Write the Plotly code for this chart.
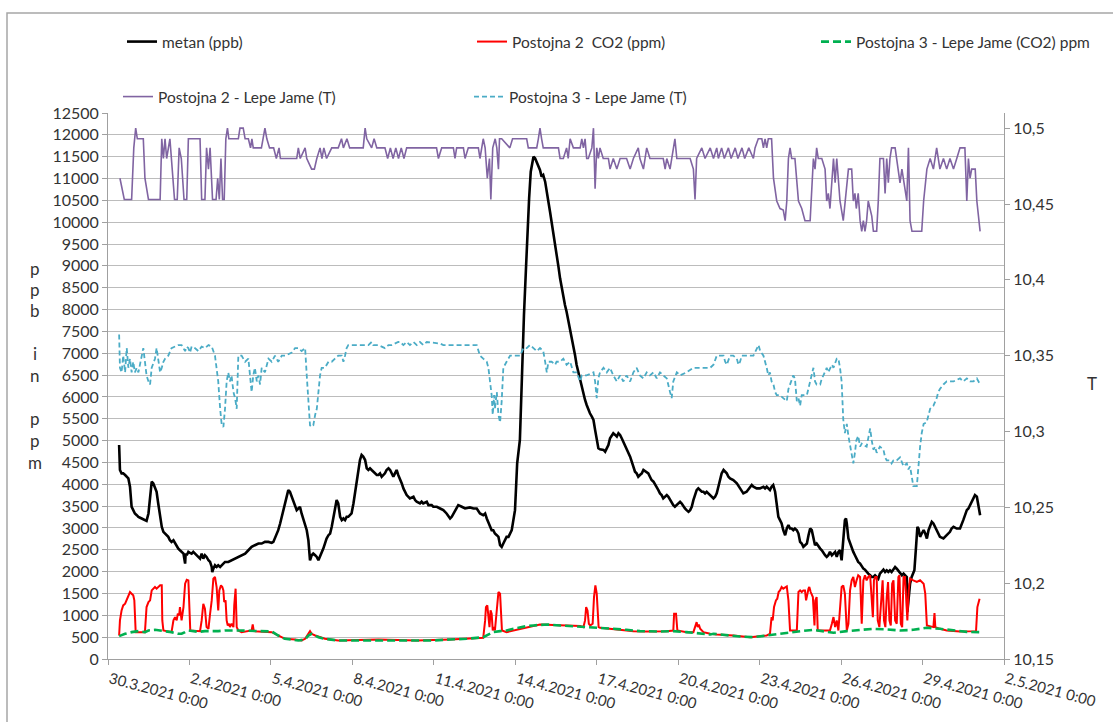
import pandas as pd
import plotly.graph_objects as go

BASE = pd.Timestamp("2021-03-30 00:00")

# ---- data: [day offset from 30.3.2021 0:00, value] ----
metan_ppb = [
    [0.41,4900],[0.44,4327],[0.50,4250],[0.56,4250],[0.63,4212],[0.69,4173],[0.75,4135],[0.81,3944],
    [0.87,3485],[0.93,3408],[0.99,3332],[1.06,3293],[1.12,3255],[1.24,3217],[1.36,3179],[1.42,3163],
    [1.49,3332],[1.55,3791],[1.61,4059],[1.67,4020],[1.73,3944],[1.79,3829],[1.85,3561],[1.92,3255],
    [1.98,3026],[2.04,2911],[2.10,2872],[2.16,2834],[2.22,2796],[2.28,2719],[2.34,2681],[2.41,2719],
    [2.47,2643],[2.53,2605],[2.59,2528],[2.65,2490],[2.71,2452],[2.78,2413],[2.84,2184],[2.86,2413],
    [2.90,2375],[2.96,2452],[3.02,2429],[3.08,2413],[3.14,2452],[3.20,2413],[3.27,2375],[3.33,2337],
    [3.39,2299],[3.45,2413],[3.51,2299],[3.57,2375],[3.63,2337],[3.70,2260],[3.76,2222],[3.82,2107],
    [3.84,1992],[3.88,2069],[3.94,2146],[4.00,2107],[4.06,2146],[4.13,2107],[4.19,2146],[4.31,2222],
    [4.43,2222],[4.56,2260],[4.68,2299],[4.80,2337],[4.92,2375],[5.05,2413],[5.17,2490],[5.29,2566],
    [5.41,2605],[5.54,2643],[5.66,2643],[5.78,2681],[5.91,2681],[6.03,2658],[6.09,2681],[6.15,2758],
    [6.21,2834],[6.27,2949],[6.34,3102],[6.40,3255],[6.52,3561],[6.58,3714],[6.64,3867],[6.70,3829],
    [6.77,3714],[6.83,3638],[6.89,3523],[6.95,3408],[7.01,3446],[7.07,3485],[7.13,3332],[7.20,3179],
    [7.26,3026],[7.32,2949],[7.38,2719],[7.44,2260],[7.50,2375],[7.56,2413],[7.63,2375],[7.69,2337],
    [7.75,2260],[7.81,2337],[7.87,2413],[7.93,2528],[7.99,2643],[8.05,2758],[8.12,2834],[8.18,2872],
    [8.24,3026],[8.30,3255],[8.36,3485],[8.42,3638],[8.48,3561],[8.55,3255],[8.61,3179],[8.67,3217],
    [8.73,3179],[8.79,3255],[8.85,3255],[8.91,3293],[8.97,3332],[9.04,3561],[9.10,3829],[9.16,4097],
    [9.22,4327],[9.28,4556],[9.34,4671],[9.40,4633],[9.47,4556],[9.53,4365],[9.59,4327],[9.65,4365],
    [9.71,4327],[9.77,4288],[9.83,4250],[9.90,4212],[9.96,4212],[10.02,4250],[10.08,4173],[10.14,4212],
    [10.20,4250],[10.26,4327],[10.33,4365],[10.39,4327],[10.45,4250],[10.51,4173],[10.57,4250],
    [10.63,4327],[10.69,4212],[10.75,4135],[10.82,4020],[10.88,3906],[11.00,3753],[11.12,3676],
    [11.25,3714],[11.31,3638],[11.37,3600],[11.49,3561],[11.55,3600],[11.61,3561],[11.74,3600],
    [11.80,3523],[11.92,3523],[11.98,3485],[12.11,3485],[12.23,3446],[12.35,3408],[12.47,3332],
    [12.60,3217],[12.66,3255],[12.78,3408],[12.90,3523],[13.03,3485],[13.15,3446],[13.33,3470],
    [13.46,3446],[13.58,3446],[13.64,3370],[13.70,3332],[13.82,3293],[13.89,3332],[13.95,3217],
    [14.01,3140],[14.07,3026],[14.13,2949],[14.19,2949],[14.25,2872],[14.32,2834],[14.38,2796],
    [14.44,2605],[14.50,2566],[14.56,2643],[14.62,2719],[14.68,2796],[14.75,2796],[14.81,2872],
    [14.87,2949],[14.93,3179],[14.99,3408],[15.03,3944],[15.07,4480],[15.17,5014],[15.23,6349],
    [15.32,7875],[15.40,9020],[15.45,9783],[15.51,10547],[15.57,11157],[15.63,11424],[15.67,11500],
    [15.73,11462],[15.79,11386],[15.91,11195],[15.97,11043],[16.03,11081],[16.10,10928],[16.16,10737],
    [16.22,10470],[16.28,10241],[16.34,10012],[16.40,9783],[16.46,9554],[16.53,9249],[16.59,8982],
    [16.65,8715],[16.71,8487],[16.77,8295],[16.83,8104],[16.89,7952],[16.96,7723],[17.02,7571],
    [17.08,7418],[17.14,7189],[17.20,6960],[17.26,6731],[17.33,6540],[17.39,6349],[17.45,6197],
    [17.51,6044],[17.57,5930],[17.63,5815],[17.69,5701],[17.75,5625],[17.82,5548],[17.88,5472],
    [17.94,5245],[18.00,5015],[18.04,4862],[18.06,4824],[18.12,4801],[18.25,4786],[18.31,4747],
    [18.37,4824],[18.43,4900],[18.49,5054],[18.61,5168],[18.68,5130],[18.74,5092],[18.80,5168],
    [18.86,5130],[18.92,5054],[18.98,4977],[19.04,4900],[19.10,4786],[19.23,4633],[19.29,4518],
    [19.35,4403],[19.41,4288],[19.47,4250],[19.53,4173],[19.59,4212],[19.66,4250],[19.72,4327],
    [19.84,4288],[19.90,4250],[19.96,4173],[20.02,4097],[20.09,4059],[20.15,3982],[20.21,3944],
    [20.27,3867],[20.33,3791],[20.39,3753],[20.45,3676],[20.52,3714],[20.58,3753],[20.64,3714],
    [20.70,3638],[20.76,3561],[20.82,3523],[20.88,3485],[20.95,3523],[21.01,3561],[21.07,3600],
    [21.13,3561],[21.19,3485],[21.25,3446],[21.31,3408],[21.38,3370],[21.44,3408],[21.50,3485],
    [21.56,3638],[21.62,3753],[21.68,3867],[21.74,3906],[21.81,3867],[21.87,3829],[21.93,3829],
    [21.99,3791],[22.05,3829],[22.17,3753],[22.30,3676],[22.36,3714],[22.42,3791],[22.48,3944],
    [22.54,4097],[22.60,4250],[22.67,4327],[22.73,4288],[22.79,4250],[22.85,4173],[22.91,4135],
    [23.03,4097],[23.16,4020],[23.28,3906],[23.34,3829],[23.40,3791],[23.52,3829],[23.65,3944],
    [23.71,3982],[23.77,3944],[23.89,3906],[24.01,3906],[24.14,3944],[24.20,3906],[24.26,3944],
    [24.32,3906],[24.38,3867],[24.44,3944],[24.50,3982],[24.57,3829],[24.63,3561],[24.69,3255],
    [24.75,3179],[24.81,3102],[24.87,2949],[24.94,2834],[25.00,2987],[25.06,3064],[25.12,2987],
    [25.18,2987],[25.24,2949],[25.30,2987],[25.37,2949],[25.43,2872],[25.49,2681],[25.55,2643],
    [25.61,2566],[25.67,2605],[25.74,2643],[25.80,2834],[25.86,2987],[25.92,2949],[25.98,2758],
    [26.04,2605],[26.10,2643],[26.17,2566],[26.23,2528],[26.29,2490],[26.35,2413],[26.41,2375],
    [26.47,2337],[26.53,2375],[26.59,2452],[26.66,2375],[26.72,2413],[26.78,2452],[26.84,2337],
    [26.90,2452],[26.96,2490],[27.02,2260],[27.08,2719],[27.14,3179],[27.18,3217],[27.21,3102],
    [27.27,2758],[27.33,2643],[27.39,2528],[27.45,2452],[27.51,2375],[27.57,2299],[27.63,2222],
    [27.70,2184],[27.76,2107],[27.82,2069],[27.88,2046],[27.94,1992],[28.00,1954],[28.07,1916],
    [28.13,1878],[28.19,1878],[28.25,1916],[28.31,1878],[28.37,1839],[28.43,1954],[28.50,1992],
    [28.56,2046],[28.62,1992],[28.68,2031],[28.74,1992],[28.80,2031],[28.86,1992],[28.93,2046],
    [28.99,2107],[29.05,2069],[29.11,2015],[29.17,1954],[29.24,1916],[29.30,1954],[29.36,1916],
    [29.42,1878],[29.44,1074],[29.48,1342],[29.54,1725],[29.60,1878],[29.66,1954],[29.70,2031],
    [29.76,2566],[29.81,3026],[29.85,2987],[29.91,2796],[29.97,2872],[30.04,2949],[30.10,2872],
    [30.16,2758],[30.22,2949],[30.28,3064],[30.34,3140],[30.40,3102],[30.52,2949],[30.58,2834],
    [30.64,2796],[30.77,2758],[30.89,2834],[31.01,2911],[31.07,2987],[31.14,3026],[31.26,2987],
    [31.38,2987],[31.50,3179],[31.57,3293],[31.63,3408],[31.69,3446],[31.75,3523],[31.87,3676],
    [31.93,3753],[32.00,3714],[32.06,3485],[32.12,3293],
]

postojna2_co2_ppm = [
    [0.41,538],[0.44,883],[0.50,1112],[0.56,1227],[0.63,1265],[0.69,1342],[0.75,1457],[0.81,1533],
    [0.87,1495],[0.93,1457],[0.97,1342],[0.99,883],[1.02,615],[1.36,615],[1.42,1189],[1.49,1304],
    [1.55,1342],[1.61,1571],[1.67,1610],[1.73,1648],[1.79,1610],[1.85,1648],[1.92,1686],[1.98,1686],
    [2.00,883],[2.04,653],[2.34,615],[2.41,883],[2.47,959],[2.53,883],[2.57,1036],[2.62,998],
    [2.65,1189],[2.71,883],[2.78,1189],[2.84,1725],[2.90,1816],[2.96,1801],[3.00,1189],[3.03,653],
    [3.39,638],[3.45,883],[3.51,1265],[3.57,1151],[3.63,730],[3.70,691],[3.76,1036],[3.82,1342],
    [3.88,1839],[3.94,1878],[4.00,1648],[4.06,1112],[4.10,1571],[4.16,1686],[4.21,1648],[4.25,1571],
    [4.28,1304],[4.33,1342],[4.37,883],[4.41,768],[4.46,806],[4.49,730],[4.55,806],[4.62,730],
    [4.65,1227],[4.70,1610],[4.74,730],[4.80,653],[4.92,615],[5.29,653],[5.33,791],[5.37,638],
    [6.03,615],[6.27,538],[6.52,462],[6.89,447],[7.13,424],[7.26,462],[7.38,577],[7.44,638],
    [7.50,577],[7.63,538],[7.99,462],[8.48,424],[9.96,447],[11.12,424],[11.37,424],[12.60,447],
    [13.21,462],[13.82,485],[13.89,883],[13.92,1189],[13.97,1227],[14.01,883],[14.05,730],[14.09,1112],
    [14.13,1036],[14.17,653],[14.22,730],[14.25,653],[14.32,1189],[14.38,1533],[14.44,1495],
    [14.48,1112],[14.51,653],[14.68,615],[14.93,653],[15.18,691],[15.42,730],[15.67,753],[15.91,791],
    [17.39,753],[17.51,730],[17.57,883],[17.61,1189],[17.66,1112],[17.71,806],[17.76,768],[17.85,806],
    [17.90,1418],[17.95,1686],[18.00,1495],[18.04,883],[18.07,730],[18.12,714],[18.61,691],
    [19.10,653],[19.35,638],[19.84,630],[20.58,638],[20.82,653],[20.85,1036],[20.92,1036],[20.97,653],
    [21.31,615],[21.56,615],[21.66,768],[21.68,844],[21.72,730],[21.76,791],[21.81,691],[21.93,615],
    [22.18,577],[22.42,561],[23.03,538],[23.65,500],[24.26,538],[24.38,577],[24.44,959],[24.48,883],
    [24.53,1189],[24.60,1342],[24.65,1380],[24.70,1533],[24.75,1571],[24.81,1648],[24.87,1610],
    [24.94,1648],[25.00,1663],[25.06,1342],[25.12,653],[25.37,653],[25.43,1533],[25.49,1571],
    [25.55,1533],[25.61,1571],[25.67,1571],[25.71,1342],[25.76,1533],[25.80,1610],[25.83,1648],
    [25.88,1533],[25.96,1418],[26.02,768],[26.05,1342],[26.10,1418],[26.14,653],[26.59,653],
    [26.66,806],[26.72,959],[26.78,730],[26.84,883],[26.90,653],[26.96,1189],[27.02,1648],
    [27.08,1686],[27.14,1495],[27.21,653],[27.27,806],[27.33,1571],[27.39,1801],[27.45,1878],
    [27.51,1648],[27.57,1801],[27.63,1916],[27.70,1878],[27.76,806],[27.82,1801],[27.88,1916],
    [27.94,1801],[28.00,1878],[28.07,1916],[28.13,1418],[28.17,959],[28.21,1801],[28.26,1878],
    [28.31,1878],[28.35,883],[28.41,730],[28.50,1648],[28.53,1801],[28.58,883],[28.63,730],
    [28.68,1418],[28.73,1763],[28.78,883],[28.83,768],[28.88,1725],[28.93,1801],[28.99,883],
    [29.05,806],[29.11,1878],[29.15,1916],[29.20,806],[29.25,730],[29.30,1878],[29.35,1878],
    [29.39,1495],[29.44,883],[29.49,1571],[29.54,1839],[29.66,1801],[29.79,1763],[29.91,1801],
    [30.04,1725],[30.10,1495],[30.13,883],[30.16,768],[30.40,730],[30.44,1051],[30.47,730],
    [30.64,691],[30.89,653],[31.38,630],[31.97,638],[32.02,1189],[32.10,1380],
]

postojna3_co2_ppm = [
    [0.41,523],[0.63,577],[0.87,615],[1.12,638],[1.36,615],[1.49,653],[1.73,668],[1.98,653],
    [2.22,638],[2.34,615],[2.59,577],[2.71,577],[2.84,615],[2.96,653],[3.33,622],[3.57,638],
    [4.06,638],[4.31,653],[4.80,653],[5.29,638],[6.03,630],[6.27,538],[6.52,462],[6.77,447],
    [7.01,424],[7.26,447],[7.38,538],[7.50,577],[7.75,500],[7.99,462],[8.48,424],[9.22,424],
    [10.45,424],[11.12,424],[11.98,424],[12.60,447],[13.21,462],[13.82,500],[13.95,538],[14.07,577],
    [14.19,615],[14.44,638],[14.68,653],[14.93,691],[15.18,730],[15.42,753],[15.67,768],[16.16,791],
    [16.65,768],[17.14,753],[17.63,730],[18.12,714],[18.61,691],[19.10,668],[19.59,638],[20.33,630],
    [20.82,638],[21.31,615],[21.81,592],[22.18,561],[22.30,577],[22.79,538],[23.28,515],[23.77,500],
    [24.26,538],[24.75,592],[25.24,622],[25.74,653],[25.98,668],[26.47,615],[26.72,600],[27.21,638],
    [27.70,668],[28.19,691],[28.68,676],[29.17,653],[29.66,668],[30.16,714],[30.64,691],[31.14,653],
    [31.63,622],[32.12,615],
]

postojna2_T = [
    [0.44,10.467],[0.52,10.460],[0.60,10.453],[0.87,10.453],[0.95,10.487],[1.02,10.500],[1.08,10.493],
    [1.30,10.493],[1.36,10.467],[1.49,10.453],[1.92,10.453],[1.98,10.493],[2.04,10.480],[2.10,10.493],
    [2.16,10.480],[2.28,10.493],[2.45,10.453],[2.55,10.453],[2.62,10.487],[2.70,10.480],[2.80,10.453],
    [2.90,10.453],[2.96,10.493],[3.39,10.493],[3.45,10.453],[3.57,10.453],[3.63,10.487],[3.70,10.473],
    [3.76,10.487],[3.85,10.453],[3.98,10.453],[4.04,10.467],[4.10,10.453],[4.16,10.480],[4.22,10.453],
    [4.28,10.453],[4.34,10.493],[4.40,10.500],[4.45,10.493],[4.80,10.493],[4.86,10.500],[4.98,10.500],
    [5.05,10.493],[5.17,10.493],[5.25,10.487],[5.30,10.493],[5.35,10.487],[5.65,10.487],[5.72,10.493],
    [5.78,10.500],[5.85,10.493],[5.95,10.487],[6.10,10.487],[6.20,10.480],[6.30,10.487],[6.35,10.480],
    [6.95,10.480],[7.01,10.487],[7.08,10.480],[7.26,10.487],[7.32,10.480],[7.50,10.473],[7.60,10.473],
    [7.69,10.480],[7.81,10.487],[7.88,10.480],[7.95,10.487],[8.05,10.480],[8.24,10.487],[8.48,10.487],
    [8.60,10.493],[8.67,10.487],[8.80,10.493],[8.90,10.487],[9.40,10.487],[9.47,10.500],[9.53,10.493],
    [9.71,10.487],[9.80,10.493],[9.90,10.487],[10.20,10.487],[10.30,10.480],[10.40,10.487],
    [10.50,10.480],[10.60,10.487],[10.70,10.480],[10.80,10.487],[10.90,10.480],[11.00,10.487],
    [12.10,10.487],[12.17,10.480],[12.29,10.487],[12.72,10.487],[12.78,10.480],[12.84,10.487],
    [13.09,10.487],[13.15,10.480],[13.27,10.487],[13.64,10.487],[13.70,10.480],[13.82,10.493],
    [13.89,10.487],[13.97,10.467],[14.05,10.480],[14.10,10.453],[14.17,10.487],[14.26,10.493],
    [14.32,10.487],[14.38,10.473],[14.42,10.493],[14.50,10.493],[14.80,10.487],[14.90,10.493],
    [15.42,10.493],[15.48,10.487],[15.79,10.487],[15.85,10.493],[15.91,10.500],[15.97,10.493],
    [16.03,10.487],[16.59,10.487],[16.65,10.480],[16.77,10.480],[16.89,10.487],[16.95,10.480],
    [17.02,10.493],[17.14,10.487],[17.39,10.487],[17.45,10.493],[17.51,10.487],[17.57,10.493],
    [17.63,10.480],[17.69,10.480],[17.82,10.487],[17.88,10.500],[17.94,10.460],[18.00,10.487],
    [18.06,10.480],[18.12,10.487],[18.24,10.480],[18.43,10.480],[18.49,10.473],[18.61,10.480],
    [18.74,10.473],[18.86,10.480],[19.10,10.480],[19.23,10.473],[19.35,10.480],[19.53,10.487],
    [19.59,10.480],[19.72,10.473],[19.84,10.487],[19.96,10.480],[20.45,10.480],[20.52,10.473],
    [20.58,10.480],[20.70,10.473],[20.82,10.487],[20.88,10.493],[20.95,10.480],[21.44,10.480],
    [21.56,10.473],[21.62,10.453],[21.68,10.480],[21.87,10.487],[21.99,10.480],[22.18,10.487],
    [22.30,10.480],[22.42,10.487],[22.48,10.480],[22.60,10.487],[22.70,10.480],[22.85,10.487],
    [22.95,10.480],[23.10,10.487],[23.20,10.480],[23.35,10.487],[23.45,10.480],[23.60,10.487],
    [23.77,10.480],[23.83,10.487],[23.95,10.493],[24.08,10.493],[24.14,10.487],[24.20,10.493],
    [24.26,10.487],[24.32,10.493],[24.44,10.493],[24.51,10.467],[24.63,10.452],[24.75,10.447],
    [24.87,10.446],[24.94,10.439],[25.00,10.452],[25.06,10.480],[25.12,10.487],[25.18,10.480],
    [25.30,10.480],[25.43,10.452],[25.55,10.447],[25.67,10.439],[25.86,10.439],[25.92,10.464],
    [25.98,10.480],[26.04,10.473],[26.10,10.487],[26.16,10.480],[26.29,10.480],[26.41,10.473],
    [26.47,10.452],[26.53,10.457],[26.59,10.447],[26.72,10.480],[26.78,10.464],[26.84,10.480],
    [26.96,10.452],[27.08,10.439],[27.21,10.464],[27.27,10.473],[27.39,10.473],[27.45,10.452],
    [27.51,10.457],[27.56,10.447],[27.63,10.457],[27.70,10.439],[27.76,10.432],[27.82,10.439],
    [27.88,10.432],[27.94,10.439],[28.00,10.452],[28.13,10.442],[28.19,10.432],[28.31,10.432],
    [28.37,10.452],[28.43,10.480],[28.56,10.480],[28.62,10.457],[28.68,10.480],[28.74,10.464],
    [28.80,10.480],[28.86,10.487],[28.99,10.487],[29.05,10.480],[29.17,10.464],[29.24,10.473],
    [29.36,10.457],[29.42,10.452],[29.48,10.487],[29.54,10.439],[29.61,10.432],[29.97,10.432],
    [30.04,10.452],[30.16,10.473],[30.28,10.480],[30.40,10.473],[30.52,10.487],[30.58,10.480],
    [30.64,10.473],[30.77,10.480],[30.89,10.473],[31.01,10.480],[31.14,10.473],[31.26,10.480],
    [31.38,10.487],[31.56,10.487],[31.63,10.452],[31.69,10.480],[31.75,10.467],[31.81,10.473],
    [31.94,10.473],[32.00,10.452],[32.06,10.439],[32.12,10.432],
]

postojna3_T = [
    [0.41,10.364],[0.44,10.342],[0.50,10.339],[0.56,10.350],[0.63,10.339],[0.69,10.355],[0.75,10.342],
    [0.81,10.348],[0.87,10.339],[0.93,10.346],[0.99,10.339],[1.06,10.342],[1.12,10.339],[1.24,10.350],
    [1.30,10.355],[1.36,10.346],[1.42,10.337],[1.49,10.333],[1.55,10.331],[1.61,10.342],[1.73,10.348],
    [1.79,10.355],[1.85,10.346],[1.92,10.339],[1.98,10.342],[2.04,10.346],[2.10,10.348],[2.22,10.350],
    [2.34,10.355],[2.47,10.356],[2.59,10.357],[2.71,10.357],[2.84,10.353],[2.90,10.356],[2.96,10.355],
    [3.02,10.352],[3.08,10.356],[3.20,10.355],[3.33,10.353],[3.45,10.356],[3.57,10.355],[3.70,10.357],
    [3.82,10.356],[3.94,10.350],[4.00,10.342],[4.06,10.333],[4.13,10.315],[4.19,10.304],[4.25,10.303],
    [4.31,10.315],[4.37,10.333],[4.43,10.339],[4.49,10.333],[4.55,10.337],[4.62,10.326],[4.68,10.322],
    [4.74,10.315],[4.80,10.350],[4.92,10.350],[5.05,10.346],[5.17,10.348],[5.29,10.326],[5.35,10.337],
    [5.41,10.342],[5.48,10.333],[5.54,10.337],[5.60,10.331],[5.66,10.342],[5.78,10.339],[5.91,10.348],
    [6.03,10.346],[6.15,10.350],[6.27,10.346],[6.40,10.350],[6.52,10.350],[6.77,10.352],[6.89,10.355],
    [7.01,10.355],[7.13,10.353],[7.26,10.355],[7.32,10.337],[7.38,10.320],[7.44,10.304],[7.50,10.303],
    [7.56,10.304],[7.63,10.311],[7.69,10.315],[7.75,10.326],[7.81,10.337],[7.87,10.342],[7.99,10.342],
    [8.12,10.346],[8.24,10.346],[8.36,10.348],[8.48,10.350],[8.61,10.350],[8.67,10.346],[8.73,10.350],
    [8.79,10.355],[8.85,10.357],[8.97,10.357],[9.22,10.357],[9.59,10.357],[9.71,10.359],[9.77,10.357],
    [9.96,10.357],[10.20,10.355],[10.33,10.357],[10.45,10.357],[10.69,10.359],[10.76,10.359],
    [10.88,10.357],[11.00,10.359],[11.12,10.357],[11.25,10.359],[11.37,10.357],[11.49,10.359],
    [11.61,10.357],[11.74,10.359],[12.23,10.358],[12.35,10.357],[13.58,10.357],[13.70,10.350],
    [13.82,10.348],[13.95,10.346],[14.01,10.342],[14.07,10.333],[14.13,10.324],[14.17,10.311],
    [14.22,10.324],[14.25,10.315],[14.32,10.326],[14.38,10.311],[14.44,10.306],[14.50,10.320],
    [14.56,10.342],[14.68,10.346],[14.81,10.350],[15.18,10.350],[15.30,10.355],[15.42,10.355],
    [15.54,10.357],[15.67,10.355],[15.79,10.353],[15.91,10.355],[16.03,10.353],[16.10,10.346],
    [16.16,10.339],[16.22,10.346],[16.34,10.346],[16.47,10.344],[16.52,10.346],[16.65,10.346],
    [16.77,10.348],[16.89,10.344],[17.02,10.346],[17.14,10.339],[17.26,10.339],[17.39,10.333],
    [17.45,10.337],[17.63,10.337],[17.88,10.339],[17.94,10.333],[18.00,10.322],[18.06,10.335],
    [18.12,10.339],[18.25,10.342],[18.37,10.339],[18.49,10.342],[18.61,10.337],[18.74,10.333],
    [18.86,10.337],[18.98,10.333],[19.10,10.337],[19.23,10.333],[19.35,10.339],[19.47,10.342],
    [19.59,10.337],[19.72,10.335],[19.84,10.339],[19.96,10.337],[20.09,10.339],[20.21,10.335],
    [20.33,10.339],[20.45,10.337],[20.58,10.335],[20.70,10.326],[20.76,10.322],[20.82,10.333],
    [20.95,10.339],[21.07,10.337],[21.31,10.339],[21.56,10.342],[21.81,10.342],[22.18,10.342],
    [22.30,10.344],[22.42,10.350],[22.54,10.350],[22.67,10.350],[22.73,10.346],[22.79,10.344],
    [22.91,10.350],[23.03,10.350],[23.16,10.348],[23.22,10.344],[23.28,10.346],[23.34,10.350],
    [23.77,10.350],[23.89,10.355],[23.96,10.357],[24.02,10.353],[24.14,10.350],[24.26,10.342],
    [24.32,10.337],[24.38,10.339],[24.44,10.333],[24.51,10.331],[24.57,10.326],[24.63,10.324],
    [24.75,10.324],[24.87,10.322],[25.00,10.320],[25.06,10.328],[25.18,10.335],[25.24,10.337],
    [25.30,10.335],[25.37,10.320],[25.43,10.322],[25.49,10.317],[25.55,10.324],[25.74,10.324],
    [25.86,10.333],[25.92,10.337],[25.98,10.342],[26.04,10.333],[26.10,10.331],[26.23,10.331],
    [26.29,10.335],[26.35,10.337],[26.41,10.339],[26.47,10.342],[26.53,10.339],[26.66,10.344],
    [26.72,10.342],[26.84,10.348],[26.90,10.348],[26.96,10.342],[27.02,10.333],[27.08,10.308],
    [27.14,10.299],[27.21,10.305],[27.27,10.297],[27.33,10.290],[27.39,10.286],[27.45,10.279],
    [27.51,10.286],[27.56,10.294],[27.63,10.297],[27.70,10.290],[27.76,10.292],[27.82,10.291],
    [27.94,10.290],[28.00,10.297],[28.07,10.302],[28.13,10.294],[28.19,10.288],[28.25,10.290],
    [28.31,10.286],[28.43,10.290],[28.56,10.288],[28.62,10.283],[28.68,10.281],[28.80,10.281],
    [28.86,10.279],[28.93,10.281],[29.05,10.281],[29.17,10.283],[29.24,10.279],[29.30,10.277],
    [29.42,10.279],[29.48,10.275],[29.54,10.277],[29.66,10.264],[29.79,10.264],[29.85,10.279],
    [29.91,10.290],[29.97,10.299],[30.04,10.305],[30.15,10.306],[30.28,10.315],[30.40,10.317],
    [30.52,10.322],[30.58,10.326],[30.64,10.328],[30.77,10.331],[30.89,10.333],[31.14,10.333],
    [31.38,10.335],[31.50,10.333],[31.63,10.335],[31.75,10.333],[31.87,10.333],[32.00,10.335],
    [32.12,10.331],
]

left_ticks = list(range(0, 12501, 500))
right_ticks = [10.15, 10.2, 10.25, 10.3, 10.35, 10.4, 10.45, 10.5]
x_tick_days = list(range(0, 34, 3))

names = ["metan (ppb)", "Postojna 2  CO2 (ppm)", "Postojna 3 - Lepe Jame (CO2) ppm",
         "Postojna 2 - Lepe Jame (T)", "Postojna 3 - Lepe Jame (T)"]


def split(pairs):
    t = BASE + pd.to_timedelta([p[0] for p in pairs], unit="D")
    return t, [p[1] for p in pairs]


FONT = "Lato"
TXT = "#333333"
GRID = "#bcbcbc"
AXIS = "#a0a0a0"

fig = go.Figure()
series = [
    (metan_ppb, names[0], dict(color="black", width=2.6), "y", "legend"),
    (postojna2_co2_ppm, names[1], dict(color="#ff0000", width=2), "y", "legend2"),
    (postojna3_co2_ppm, names[2], dict(color="#00b050", width=2.6, dash="8px,4px"), "y", "legend3"),
    (postojna2_T, names[3], dict(color="#8064a2", width=1.6), "y2", "legend4"),
    (postojna3_T, names[4], dict(color="#4bacc6", width=1.8, dash="5px,3px"), "y2", "legend5"),
]
order = [3, 4, 0, 1, 2]
for i in order:
    data, nm, ln, ya, lg = series[i]
    t, v = split(data)
    fig.add_trace(go.Scatter(x=t, y=v, name=nm, mode="lines", line=ln, yaxis=ya,
                             legend=lg, hoverinfo="skip"))

x_ticks = [BASE + pd.Timedelta(days=d) for d in x_tick_days]
x_text = [f"{d.day}.{d.month}.{d.year} 0:00" for d in x_ticks]


def fmt(v):
    s = f"{v:.2f}".rstrip("0").rstrip(".")
    return s.replace(".", ",")


leg_common = dict(orientation="h", xanchor="left", yanchor="middle", bgcolor="rgba(0,0,0,0)",
                  font=dict(family=FONT, size=15.5, color=TXT), borderwidth=0)
pw, ph = 896.0, 546.0


def px_x(p):
    return (p - 108) / pw


def px_y(p):
    return (659 - p) / ph


fig.update_layout(
    width=1113, height=722,
    margin=dict(l=108, r=109, t=113, b=63, autoexpand=False),
    paper_bgcolor="white", plot_bgcolor="white",
    font=dict(family=FONT, size=15, color=TXT),
    showlegend=True,
    legend=dict(x=px_x(122), y=px_y(42), **leg_common),
    legend2=dict(x=px_x(472), y=px_y(42), **leg_common),
    legend3=dict(x=px_x(816), y=px_y(42), **leg_common),
    legend4=dict(x=px_x(118), y=px_y(97), **leg_common),
    legend5=dict(x=px_x(469), y=px_y(97), **leg_common),
    xaxis=dict(type="date", range=[x_ticks[0], x_ticks[-1]], tickvals=x_ticks, ticktext=x_text,
               tickangle=15, ticks="outside", ticklen=5, tickcolor=AXIS, showgrid=False,
               showline=True, linecolor=AXIS, linewidth=1, zeroline=False,
               ticklabelshift=2,
               tickfont=dict(family=FONT, size=15, color=TXT)),
    yaxis=dict(range=[0, 12500], tickvals=left_ticks, ticktext=[str(v) for v in left_ticks],
               ticks="outside", ticklen=5, tickcolor=AXIS, showgrid=True, gridcolor=GRID,
               gridwidth=1, showline=True, linecolor=AXIS, zeroline=False,
               tickfont=dict(family=FONT, size=16, color=TXT)),
    yaxis2=dict(overlaying="y", side="right", range=[10.15, 10.51], tickvals=right_ticks,
                ticktext=[fmt(v) for v in right_ticks], ticks="outside", ticklen=5,
                tickcolor=AXIS, showgrid=False, showline=True, linecolor=AXIS, zeroline=False,
                tickfont=dict(family=FONT, size=16, color=TXT)),
)

# outer chart border
fig.add_shape(type="rect", xref="paper", yref="paper", x0=px_x(7), x1=px_x(1117),
              y0=px_y(728), y1=px_y(13), line=dict(color="#a6a6a6", width=1.5),
              fillcolor="rgba(0,0,0,0)", layer="below")

# left axis title, stacked letters
letters = [("p", 268), ("p", 289), ("b", 310), ("i", 353), ("n", 375),
           ("p", 418), ("p", 440), ("m", 462)]
for ch, yy in letters:
    fig.add_annotation(text=ch, xref="paper", yref="paper", x=px_x(35), y=px_y(yy),
                       showarrow=False, xanchor="center", yanchor="middle",
                       font=dict(family=FONT, size=17, color=TXT))
fig.add_annotation(text="T", xref="paper", yref="paper", x=px_x(1092), y=px_y(383),
                   showarrow=False, xanchor="center", yanchor="middle",
                   font=dict(family=FONT, size=17, color=TXT))

fig.write_html("out.html", config={"displayModeBar": False},
               post_script="document.body.style.margin='0';document.body.style.overflow='hidden';")
